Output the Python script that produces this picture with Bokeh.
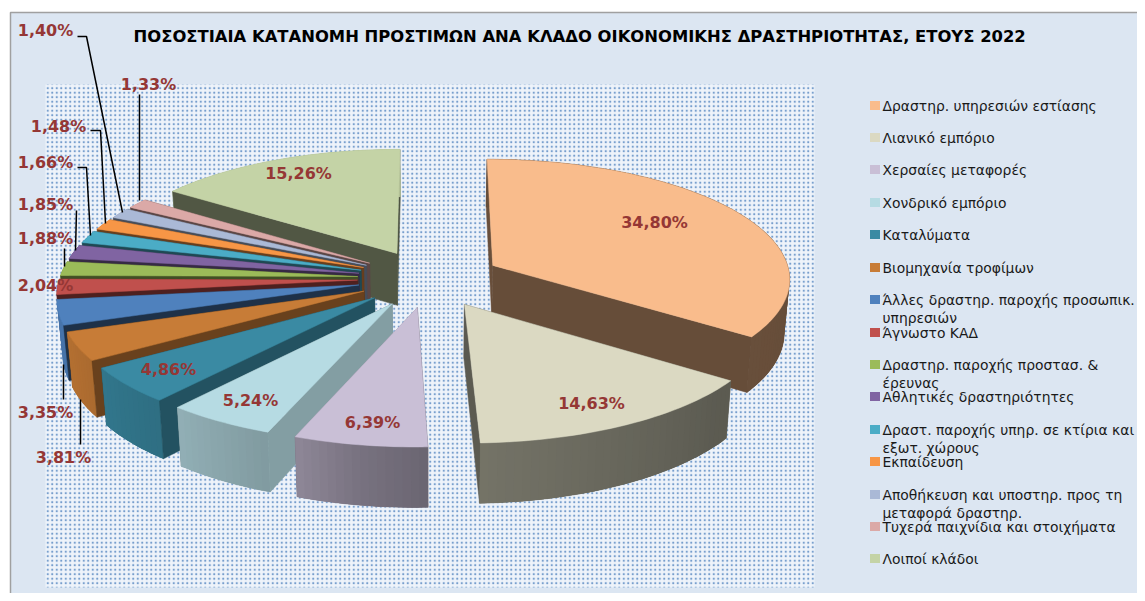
import numpy as np
from bokeh.plotting import figure
from bokeh.embed import file_html
from bokeh.resources import INLINE
from bokeh.models import Range1d
from bokeh.core.properties import value

title_text = "ΠΟΣΟΣΤΙΑΙΑ ΚΑΤΑΝΟΜΗ ΠΡΟΣΤΙΜΩΝ ΑΝΑ ΚΛΑΔΟ ΟΙΚΟΝΟΜΙΚΗΣ ΔΡΑΣΤΗΡΙΟΤΗΤΑΣ, ΕΤΟΥΣ  2022"
categories = [
    "Δραστηρ. υπηρεσιών εστίασης", "Λιανικό εμπόριο", "Χερσαίες μεταφορές", "Χονδρικό εμπόριο",
    "Καταλύματα", "Βιομηχανία τροφίμων", "Άλλες δραστηρ. παροχής προσωπικ.\nυπηρεσιών", "Άγνωστο ΚΑΔ",
    "Δραστηρ. παροχής προστασ. &\nέρευνας", "Αθλητικές δραστηριότητες",
    "Δραστ. παροχής υπηρ. σε κτίρια και\nεξωτ. χώρους", "Εκπαίδευση",
    "Αποθήκευση και υποστηρ. προς τη\nμεταφορά δραστηρ.", "Τυχερά παιχνίδια και στοιχήματα", "Λοιποί κλάδοι",
]
values = [34.80, 14.63, 6.39, 5.24, 4.86, 3.81, 3.35, 2.04, 1.88, 1.85, 1.66, 1.48, 1.40, 1.33, 15.26]
labels = ["34,80%", "14,63%", "6,39%", "5,24%", "4,86%", "3,81%", "3,35%", "2,04%", "1,88%", "1,85%",
          "1,66%", "1,48%", "1,40%", "1,33%", "15,26%"]
colors = ["#F9BC8C", "#DBD9C2", "#C9BFD6", "#B6DBE3", "#3A8AA3", "#C77C37", "#4F81BD", "#C0504D",
          "#9BBB59", "#8064A2", "#4BACC6", "#F79646", "#AAB9D6", "#DBA9A7", "#C4D3A6"]

# layout
label_x = [654, 591, 372, 250, 168, 63, 45, 45, 45, 45, 45, 58, 45, 148, 298]
label_y = [222, 403, 422, 400, 369, 457, 412, 285, 238, 204, 162, 126, 30, 84, 173]
leaders = [
    ([77, 86, 122], [36, 36, 212]), ([139, 139], [94, 200]), ([90, 100, 105], [130, 130, 223]),
    ([77, 86, 90], [167, 167, 235]), ([76, 75], [210, 250]), ([64, 64], [248, 266]),
    ([63, 63], [364, 399]), ([80, 80], [399, 444]),
]
legend_y = [105, 137, 169, 202, 234, 267, 299, 332, 364, 396, 429, 461, 494, 526, 558]
CX, CY, R, E, K, C, D, M = 429.0, 278.0, 298.0, 72.0, 0.40, 0.10 / 298, 53.0, 0.985


def shade(hex_color, f):
    rgb = [int(hex_color[i:i + 2], 16) for i in (1, 3, 5)]
    return "#%02x%02x%02x" % tuple(int(round(c * f)) for c in rgb)


def project(u, v, low=False):
    s = 1 / (1 - C * v)
    x = u * s
    y = K * v * s
    if low:
        x *= M
        y += D * s
    return CX + x, CY + y


def wall_f(a):
    return np.interp(a, [90, 130, 178, 190, 200, 220, 250, 290], [.41, .42, .53, .6, .7, .8, .9, .9])


def face_f(a):
    return np.interp(a, [0, 125, 178, 201, 219, 237, 251, 270, 360],
                     [.42, .41, .42, .72, .6, .53, .38, .42, .4])


p = figure(width=1137, height=593, output_backend="svg", toolbar_location=None,
           x_range=Range1d(0, 1137), y_range=Range1d(593, 0), min_border=0,
           x_axis_type="linear", outline_line_color=None, background_fill_color="white",
           border_fill_color="white")
p.axis.visible = False
p.grid.visible = False

# chart area and patterned plot area
p.quad(left=[10], right=[1146], top=[12], bottom=[602], fill_color="#DCE6F2", line_color="#A0A0A0", line_width=1.5)
p.quad(left=[45], right=[814], top=[84], bottom=[587], fill_color="#EEF3FA", line_color=None,
       hatch_pattern="dot", hatch_color="#4F81BD", hatch_scale=4.5, hatch_alpha=0.75, hatch_weight=1.2)

# slices
frac = np.array(values) / sum(values)
ends = np.cumsum(frac) * 360
starts = ends - frac * 360
order = list(range(14, 2, -1)) + [0, 1, 2]
for i in order:
    a0, a1 = starts[i], ends[i]
    mid = np.radians((a0 + a1) / 2)
    ou, ov = E * np.sin(mid), -E * np.cos(mid)
    ang = np.linspace(a0, a1, max(4, int((a1 - a0) / 1.5) + 2))
    us = ou + R * np.sin(np.radians(ang))
    vs = ov - R * np.cos(np.radians(ang))
    tx, ty = project(us, vs)
    bx, by = project(us, vs, True)
    ax, ay = project(ou, ov)
    abx, aby = project(ou, ov, True)

    def near_face():
        c = shade(colors[i], face_f(a0))
        p.patch([ax, tx[0], bx[0], abx], [ay, ty[0], by[0], aby], fill_color=c, line_color=c, line_width=0.5)

    # far radial face
    cf = shade(colors[i], face_f(a1))
    p.patch([ax, tx[-1], bx[-1], abx], [ay, ty[-1], by[-1], aby], fill_color=cf, line_color=cf, line_width=0.5)
    if a0 <= 180:
        near_face()
    # outer wall: base shape, then overlapping shaded pieces so no seams appear
    cb = shade(colors[i], wall_f((a0 + a1) / 2))
    p.patch(np.r_[tx, bx[::-1]], np.r_[ty, by[::-1]], fill_color=cb, line_color=cb, line_width=0.5)
    for j in range(len(ang) - 1):
        k = min(j + 2, len(ang) - 1)
        cw = shade(colors[i], wall_f((ang[j] + ang[j + 1]) / 2))
        p.patch(np.r_[tx[j:k + 1], bx[j:k + 1][::-1]], np.r_[ty[j:k + 1], by[j:k + 1][::-1]],
                fill_color=cw, line_color=None)
    if a0 > 180:
        near_face()
    # top
    p.patch(np.r_[ax, tx], np.r_[ay, ty], fill_color=colors[i], line_color=colors[i], line_width=0.5)

# leaders and data labels
for xs, ys in leaders:
    p.line(xs, ys, line_color="black", line_width=1.5)
p.text(label_x, label_y, text=labels, text_color="#953735", text_align="center", text_baseline="middle",
       text_font=value("DejaVu Sans"), text_font_style="bold", text_font_size="16px")

# title
p.text([582], [36], text=[title_text], text_color="black", text_align="center", text_baseline="middle",
       text_font=value("DejaVu Sans"), text_font_style="bold", text_font_size="16.4px")

# legend
p.rect([874.5] * 15, legend_y, width=10, height=9, fill_color=colors, line_color=None)
for name, y in zip(categories, legend_y):
    lines = name.split("\n")
    for n, line in enumerate(lines):
        p.text([882], [y + n * 18], text=[line], text_color="#1a1a1a", text_align="left", text_baseline="middle",
               text_font=value("DejaVu Sans"), text_font_size="13.9px")

open("out.html", "w").write(file_html(p, INLINE))
